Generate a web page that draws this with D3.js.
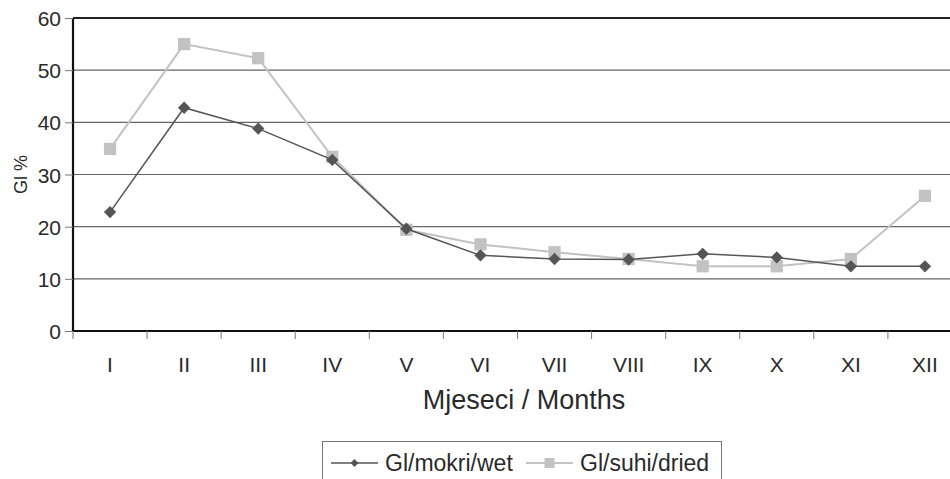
<!DOCTYPE html>
<html>
<head>
<meta charset="utf-8">
<script src="https://cdn.jsdelivr.net/npm/d3@7"></script>
<style>
  html, body { margin: 0; padding: 0; background: #fff; }
  svg { display: block; font-family: "Liberation Sans", Arial, sans-serif; }
</style>
</head>
<body>
<svg id="chart" width="950" height="479"></svg>
<script>
// Months (Roman numerals) and germination index per month
const months = ["I", "II", "III", "IV", "V", "VI", "VII", "VIII", "IX", "X", "XI", "XII"];
const wetValues = [22.8, 42.8, 38.8, 32.8, 19.6, 14.5, 13.8, 13.7, 14.8, 14.1, 12.4, 12.4];
const driedValues = [34.9, 55.0, 52.3, 33.4, 19.4, 16.6, 15.1, 13.8, 12.4, 12.4, 13.8, 25.9];
const yTicks = [0, 10, 20, 30, 40, 50, 60];
const seriesNames = ["Gl/mokri/wet", "Gl/suhi/dried"];

const svg = d3.select("#chart");
const plotLeft = 73, plotRight = 962, plotTop = 18, plotBottom = 331;

const x = d3.scaleBand().domain(months).range([plotLeft, plotRight]).paddingInner(0).paddingOuter(0);
const y = d3.scaleLinear().domain([0, 60]).range([plotBottom, plotTop]);

const textColor = "#2a2a2a";
const fontFamily = "'Liberation Sans', Arial, sans-serif";
const wetColor = "#555555";
const driedColor = "#c2c2c2";

// Horizontal gridlines
svg.append("g")
  .selectAll("line")
  .data(yTicks.filter(d => d > 0))
  .join("line")
  .attr("x1", plotLeft).attr("x2", plotRight)
  .attr("y1", d => y(d)).attr("y2", d => y(d))
  .attr("stroke", d => d === 60 ? "#222" : "#666")
  .attr("stroke-width", d => d === 60 ? 2 : 1.2);

// Y axis
const yAxis = svg.append("g")
  .attr("transform", `translate(${plotLeft},0)`)
  .call(d3.axisLeft(y).tickValues(yTicks).tickSize(8).tickPadding(4));
yAxis.select(".domain").attr("stroke", "#111").attr("stroke-width", 2.2).attr("d", `M0,${plotTop}V${plotBottom}`);
yAxis.selectAll(".tick line").attr("stroke", "#777");
yAxis.selectAll(".tick text")
  .attr("fill", textColor)
  .attr("dy", "0.36em")
  .style("font-size", "21px")
  .style("font-family", fontFamily);

// X axis with tick marks on band boundaries
const xAxis = svg.append("g")
  .attr("transform", `translate(0,${plotBottom})`)
  .call(d3.axisBottom(x).tickSize(0));
xAxis.select(".domain").attr("stroke", "#111").attr("stroke-width", 2.2).attr("d", `M${plotLeft},0H${plotRight}`);
xAxis.selectAll(".tick text")
  .attr("fill", textColor)
  .attr("dy", null)
  .attr("y", 41)
  .style("font-size", "21px")
  .style("font-family", fontFamily);
xAxis.append("g")
  .selectAll("line")
  .data(months)
  .join("line")
  .attr("x1", d => x(d)).attr("x2", d => x(d))
  .attr("y1", 0).attr("y2", 8)
  .attr("stroke", "#777");

// Axis titles
svg.append("text")
  .attr("transform", `translate(27,${(plotTop + plotBottom) / 2}) rotate(-90)`)
  .attr("text-anchor", "middle")
  .attr("fill", textColor)
  .style("font-size", "18px")
  .text("Gl %");

svg.append("text")
  .attr("x", 524).attr("y", 409)
  .attr("text-anchor", "middle")
  .attr("fill", textColor)
  .style("font-size", "27px")
  .text("Mjeseci / Months");

const cx = d => x(d) + x.bandwidth() / 2;
const line = d3.line().x((d, i) => cx(months[i])).y(d => y(d));

const squareMarker = d3.symbol().type(d3.symbolSquare).size(150);
const diamondMarker = d3.symbol().type(d3.symbolSquare).size(76);

// Dried series (drawn first, behind)
svg.append("path")
  .datum(driedValues)
  .attr("d", line)
  .attr("fill", "none")
  .attr("stroke", driedColor)
  .attr("stroke-width", 2);
svg.append("g")
  .selectAll("path")
  .data(driedValues)
  .join("path")
  .attr("d", squareMarker)
  .attr("transform", (d, i) => `translate(${cx(months[i])},${y(d)})`)
  .attr("fill", driedColor);

// Wet series
svg.append("path")
  .datum(wetValues)
  .attr("d", line)
  .attr("fill", "none")
  .attr("stroke", wetColor)
  .attr("stroke-width", 1.5);
svg.append("g")
  .selectAll("path")
  .data(wetValues)
  .join("path")
  .attr("d", diamondMarker)
  .attr("transform", (d, i) => `translate(${cx(months[i])},${y(d)}) rotate(45)`)
  .attr("fill", wetColor);

// Legend
const legend = svg.append("g");
legend.append("rect")
  .attr("x", 322.5).attr("y", 441.5)
  .attr("width", 399).attr("height", 50)
  .attr("fill", "#fff").attr("stroke", "#777");

const legendItems = [
  { name: seriesNames[0], x0: 331, color: wetColor, sym: d3.symbol().type(d3.symbolSquare).size(32), rot: 45, w: 1.5 },
  { name: seriesNames[1], x0: 526, color: driedColor, sym: d3.symbol().type(d3.symbolSquare).size(100), rot: 0, w: 2 }
];
const li = legend.selectAll("g.item").data(legendItems).join("g").attr("class", "item");
li.append("line")
  .attr("x1", d => d.x0).attr("x2", d => d.x0 + 47)
  .attr("y1", 463).attr("y2", 463)
  .attr("stroke", d => d.color).attr("stroke-width", d => d.w);
li.append("path")
  .attr("d", d => d.sym())
  .attr("transform", d => `translate(${d.x0 + 23.5},463) rotate(${d.rot})`)
  .attr("fill", d => d.color);
li.append("text")
  .attr("x", d => d.x0 + 54).attr("y", 471)
  .attr("fill", textColor)
  .style("font-size", "23px")
  .text(d => d.name);
</script>
</body>
</html>
